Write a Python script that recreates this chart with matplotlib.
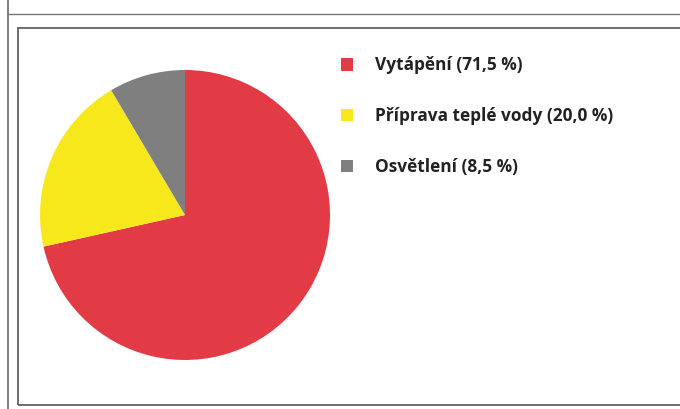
import matplotlib.pyplot as plt
from matplotlib.patches import Rectangle
from matplotlib.lines import Line2D

plt.rcParams['font.family'] = ['Open Sans', 'DejaVu Sans']

labels = ['Vytápění', 'Příprava teplé vody', 'Osvětlení']
shares = [71.5, 20.0, 8.5]
colors = ['#E23B45', '#F7E81C', '#7F7F7F']

W, H = 680, 409
fig = plt.figure(figsize=(6.8, 4.09), dpi=100)

# frame lines (scanned page look)
fig.add_artist(Line2D([8 / W, 8 / W], [0, 1], color='#666666', lw=1.2))
fig.add_artist(Line2D([8 / W, 1], [1 - 14 / H, 1 - 14 / H], color='#777777', lw=1.0))
fig.add_artist(Rectangle((18 / W, 1 - 405 / H), 1.2, (405 - 28) / H, fill=False,
                         edgecolor='#555555', lw=1.2))

# pie: centre ~(185, 215) px, radius ~145 px
cx, cy, r = 185, 215, 145
ax = fig.add_axes([(cx - r) / W, 1 - (cy + r) / H, 2 * r / W, 2 * r / H])
wedges, _ = ax.pie(shares, colors=colors, startangle=90, counterclock=False,
                   wedgeprops=dict(linewidth=0))
ax.set_xlim(-1, 1)
ax.set_ylim(-1, 1)
ax.set_aspect('equal')
ax.axis('off')

legend_labels = [f"{n} ({v:.1f} %)".replace('.', ',') for n, v in zip(labels, shares)]
leg = fig.legend(wedges, legend_labels, loc='upper left',
                 bbox_to_anchor=(325 / W, 1 - 41 / H), frameon=False,
                 prop={'weight': 'bold', 'size': 12.4}, labelspacing=1.9,
                 handlelength=0.72, handleheight=0.72, handletextpad=1.3)
for t in leg.get_texts():
    t.set_color('#222222')

fig.savefig('out.png', dpi=100)
